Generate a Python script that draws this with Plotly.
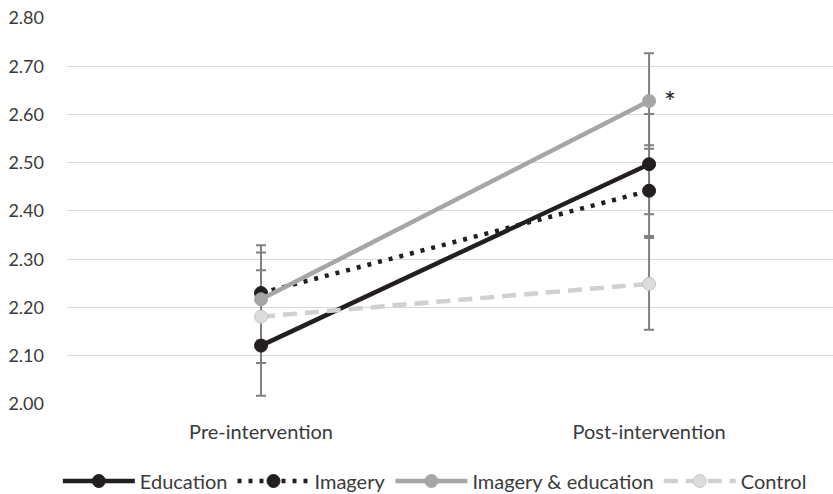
import plotly.graph_objects as go

phases = ["Pre-intervention", "Post-intervention"]
series_names = ["Education", "Imagery", "Imagery & education", "Control"]
education = [2.121, 2.497]
imagery = [2.230, 2.442]
imagery_education = [2.217, 2.628]
control = [2.181, 2.249]
education_err = [0.104, 0.104]
imagery_err = [0.099, 0.094]
imagery_education_err = [0.097, 0.099]
control_err = [0.096, 0.095]
y_ticks = [2.0, 2.1, 2.2, 2.3, 2.4, 2.5, 2.6, 2.7, 2.8]

values = [education, imagery, imagery_education, control]
errors = [education_err, imagery_err, imagery_education_err, control_err]
line_colors = ["#231f20", "#231f20", "#a6a6a6", "#d0d0d0"]
marker_fill = ["#231f20", "#231f20", "#a6a6a6", "#dcdcdc"]
marker_line = ["#231f20", "#231f20", "#a6a6a6", "#c4c4c4"]
dashes = ["solid", "4px,7px", "solid", "14px,8px"]

FONT = "Lato, 'Liberation Sans', Arial, sans-serif"
TXT = "#3a3a3a"

fig = go.Figure()

# error bars first (drawn beneath all lines and markers)
for v, e in zip(values, errors):
    fig.add_trace(go.Scatter(
        x=phases, y=v, mode="markers",
        marker=dict(size=1, color="rgba(0,0,0,0)"),
        error_y=dict(type="data", array=e, visible=True, color="#808080",
                     thickness=2, width=5),
        showlegend=False, hoverinfo="skip"))

for name, v, lc, mf, ml, d in zip(series_names, values, line_colors,
                                  marker_fill, marker_line, dashes):
    fig.add_trace(go.Scatter(
        x=phases, y=v, mode="lines+markers", name=name,
        line=dict(color=lc, width=4.5, dash=d),
        marker=dict(size=13, color=mf, line=dict(color=ml, width=1))))

fig.add_annotation(x=phases[1], y=imagery_education[1], text="*",
                   showarrow=False, xshift=21, yshift=-1,
                   font=dict(family=FONT, size=28, color="#222222"))

fig.update_layout(
    width=833, height=494,
    margin=dict(l=67, r=0, t=17, b=90, autoexpand=False),
    paper_bgcolor="white", plot_bgcolor="white",
    font=dict(family=FONT, size=20, color=TXT),
    xaxis=dict(type="category", range=[-0.5, 1.474], showgrid=False,
               showline=False, zeroline=False, ticks="",
               ticklabelstandoff=14,
               tickfont=dict(size=20, color=TXT)),
    yaxis=dict(range=[2.0, 2.802], tickvals=y_ticks,
               ticktext=[f"{t:.2f}" for t in y_ticks],
               showgrid=True, gridcolor="#d9d9d9", gridwidth=1,
               zeroline=False, showline=False, ticklabelstandoff=22,
               tickfont=dict(size=18, color=TXT)),
    legend=dict(orientation="h", xref="container", x=0.522,
                xanchor="center", yref="container", y=0.0263,
                yanchor="middle",
                font=dict(size=20, color=TXT), itemwidth=72,
                bgcolor="rgba(0,0,0,0)"),
    showlegend=True,
)

fig.write_html("out.html", config={"displayModeBar": False},
               post_script="document.body.style.margin='0';")
